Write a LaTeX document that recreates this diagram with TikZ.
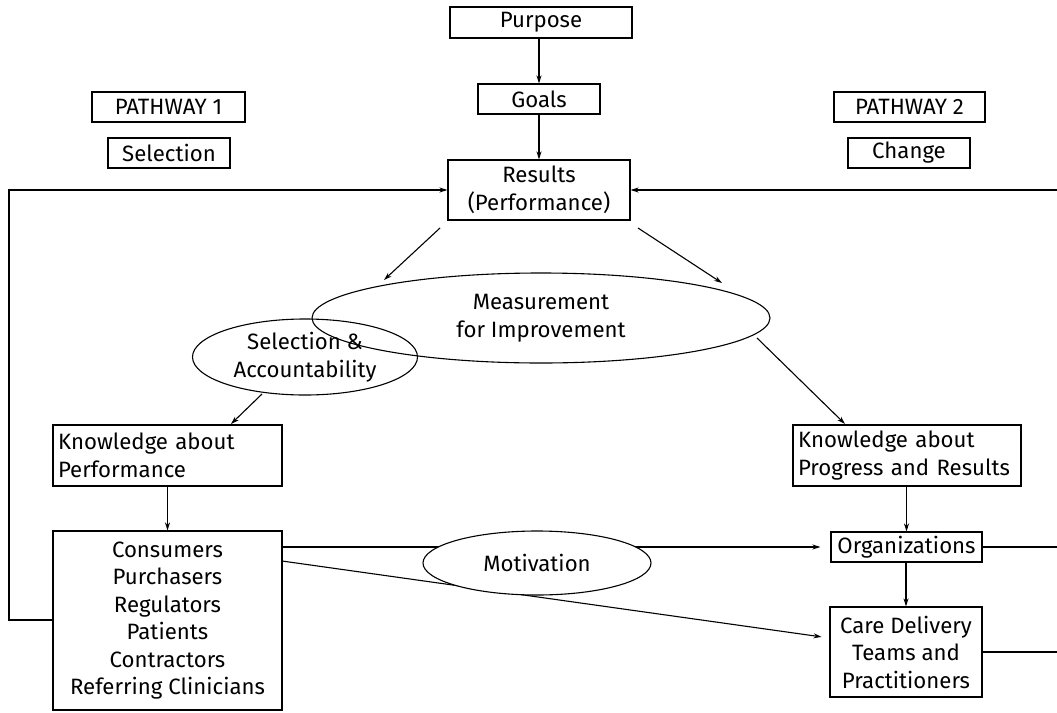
\documentclass[tikz,border=0pt]{standalone}
\usepackage{fontspec}
\setmainfont{Fira Sans}
\usetikzlibrary{shapes.geometric,arrows.meta}
\newcommand{\labelfont}{\fontsize{22.2pt}{27.5pt}\selectfont}
\begin{document}
\begin{tikzpicture}[x=1pt,y=-1pt,
  every node/.style={font=\labelfont, inner sep=0pt},
  box/.style={draw, line width=1.1pt, align=center},
  leftbox/.style={draw, line width=1.1pt, align=left, inner xsep=5pt},
  oval/.style={draw, ellipse, line width=1.1pt, align=center},
  link/.style={line width=1.1pt},
  arr/.style={line width=1.1pt, -{Stealth[length=8pt,width=5pt]}}
]
\useasboundingbox (0,0) rectangle (1057,712);

% central chain
\node[box, minimum width=182pt, minimum height=31pt] (purpose) at (541,22.5) {Purpose};
\node[box, minimum width=122pt, minimum height=30pt] (goals) at (539,99) {Goals};
\node[box, minimum width=182pt, minimum height=60pt] (results) at (539,190) {Results\\(Performance)};

% pathway labels
\node[box, minimum width=153pt, minimum height=30pt] (path1) at (168.5,107) {PATHWAY 1};
\node[box, minimum width=122pt, minimum height=30pt] (sel) at (169,153) {Selection};
\node[box, minimum width=151pt, minimum height=30pt] (path2) at (909.5,107) {PATHWAY 2};
\node[box, minimum width=122pt, minimum height=30pt] (change) at (909,153) {Change};

% overlapping ovals
\node[oval, minimum width=458pt, minimum height=90pt] (meas) at (541,318) {Measurement\\for Improvement};
\node[oval, minimum width=225pt, minimum height=76pt] (selacc) at (305,357) {Selection \&\\Accountability};

% knowledge boxes
\node[leftbox, minimum width=229pt, minimum height=61pt, text width=219pt] (kperf) at (167.5,455.5) {Knowledge about\\Performance};
\node[leftbox, minimum width=228pt, minimum height=61pt, text width=218pt] (kprog) at (907,455.5) {Knowledge about\\Progress and Results};

% actors
\node[box, minimum width=229pt, minimum height=179pt] (actors) at (167.5,620.5)
  {Consumers\\Purchasers\\Regulators\\Patients\\Contractors\\Referring Clinicians};
\node[box, minimum width=151pt, minimum height=30pt] (orgs) at (906.5,547) {Organizations};
\node[box, minimum width=152pt, minimum height=90pt] (care) at (906,652) {Care Delivery\\Teams and\\Practitioners};

% connector end points
\coordinate (rA) at (440,228);
\coordinate (mA) at (384,280);
\coordinate (rB) at (638,228);
\coordinate (mB) at (722,283);
\coordinate (sA) at (262,394);
\coordinate (kA) at (231,424);
\coordinate (mC) at (757,338);
\coordinate (kB) at (845,424);
\coordinate (leftx) at (9,0);
\coordinate (rightx) at (1057,0);

% vertical chain
\draw[arr] (goals |- purpose.south) -- (goals.north);
\draw[arr] (goals.south) -- (results.north);
\draw[arr] (rA) -- (mA);
\draw[arr] (rB) -- (mB);
\draw[arr] (sA) -- (kA);
\draw[arr] (mC) -- (kB);
\draw[arr] (kperf.south) -- (actors.north);
\draw[arr] (kprog.south -| orgs) -- (orgs.north);
\draw[arr] (orgs.south -| care) -- (care.north);

% feedback loops
\draw[arr] (actors.west |- 0,620) -| (leftx |- 0,190) -- (results.west);
\draw[arr] (rightx |- results) -- (results.east);
\draw[link] (orgs.east) -- (rightx |- orgs);
\draw[link] (care.east) -- (rightx |- care);

% motivation links, partly hidden by the oval
\draw[arr, shorten >=10pt] (actors.east |- orgs) -- (orgs.west);
\draw[arr, shorten >=8pt] (282,561) -- (care.west |- 0,638);
\node[oval, fill=white, minimum width=228pt, minimum height=64pt] (motiv) at (537,563) {Motivation};
\end{tikzpicture}
\end{document}
